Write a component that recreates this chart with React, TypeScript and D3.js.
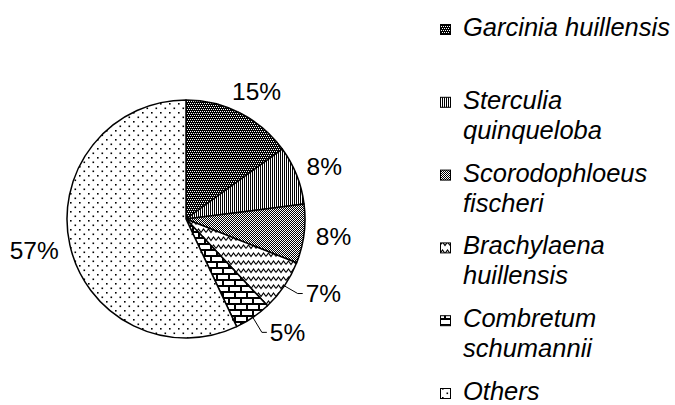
import React from 'react';
import * as d3 from 'd3';

const species = [
  'Garcinia huillensis',
  'Sterculia quinqueloba',
  'Scorodophloeus fischeri',
  'Brachylaena huillensis',
  'Combretum schumannii',
  'Others'
];
const legendLines = [
  ['Garcinia huillensis'],
  ['Sterculia', 'quinqueloba'],
  ['Scorodophloeus', 'fischeri'],
  ['Brachylaena', 'huillensis'],
  ['Combretum', 'schumannii'],
  ['Others']
];
const shares = [15, 8, 8, 7, 5, 57];
const withLeader = [false, false, false, true, true, false];
const patternIds = ['pGar', 'pSte', 'pSco', 'pBra', 'pCom', 'pOth'];

const width = 675;
const height = 405;
const cx = 186;
const cy = 219;
const radius = 119;
const font = '"Liberation Sans", Arial, sans-serif';
const labelSize = 24.5;

const Patterns = () => (
  <defs>
    {/* dense dark check */}
    <pattern id="pGar" width={4} height={4} patternUnits="userSpaceOnUse">
      <rect width={4} height={4} fill="#000" />
      <rect x={0} y={0} width={1} height={1} fill="#fff" />
      <rect x={2} y={0} width={1} height={1} fill="#fff" />
      <rect x={1} y={2} width={1} height={1} fill="#fff" />
      <rect x={3} y={2} width={1} height={1} fill="#fff" />
    </pattern>
    {/* vertical stripes */}
    <pattern id="pSte" width={2} height={4} patternUnits="userSpaceOnUse">
      <rect width={2} height={4} fill="#fff" />
      <rect x={0} y={0} width={1} height={4} fill="#000" />
    </pattern>
    {/* fine checker */}
    <pattern id="pSco" width={2} height={2} patternUnits="userSpaceOnUse">
      <rect width={2} height={2} fill="#fff" />
      <rect x={0} y={0} width={1} height={1} fill="#000" />
      <rect x={1} y={1} width={1} height={1} fill="#000" />
    </pattern>
    {/* zigzag waves */}
    <pattern id="pBra" width={10} height={8} patternUnits="userSpaceOnUse">
      <rect width={10} height={8} fill="#fff" />
      <path d="M0,5.5 L2.5,2 L5,5.5 L7.5,2 L10,5.5" fill="none" stroke="#000" strokeWidth={1.2} />
    </pattern>
    {/* brick */}
    <pattern id="pCom" width={12} height={12} patternUnits="userSpaceOnUse">
      <rect width={12} height={12} fill="#fff" />
      <path d="M0,1 H12 M0,7 H12 M1,1 V7 M7,7 V13" fill="none" stroke="#000" strokeWidth={2} />
    </pattern>
    {/* sparse dots */}
    <pattern id="pOth" width={9} height={9} patternUnits="userSpaceOnUse">
      <rect width={9} height={9} fill="#fff" />
      <rect x={1} y={1} width={1.6} height={1.6} fill="#000" />
      <rect x={5.5} y={5.5} width={1.6} height={1.6} fill="#000" />
    </pattern>
  </defs>
);

const App: React.FC = () => {
  const pie = d3.pie<number>().sort(null).value(d => d);
  const arcs = pie(shares);
  const arc = d3.arc<d3.PieArcDatum<number>>().innerRadius(0).outerRadius(radius);

  const legendY = d3.scaleLinear().domain([0, species.length - 1]).range([36, 400]);

  return (
    <svg width={width} height={height} style={{ position: 'absolute', left: 0, top: 0 }}>
      <Patterns />
      <rect width={width} height={height} fill="#fff" />
      <g transform={`translate(${cx},${cy})`}>
        {arcs.map((a, i) => (
          <path key={species[i]} d={arc(a) || ''} fill={`url(#${patternIds[i]})`}
            stroke="#000" strokeWidth={1.5} strokeLinejoin="round" />
        ))}
        {arcs.map((a, i) => {
          const mid = (a.startAngle + a.endAngle) / 2;
          const s = Math.sin(mid);
          const c = -Math.cos(mid);
          const txt = `${shares[i]}%`;
          if (withLeader[i]) {
            // label dragged out slightly, joined back to the arc
            const la = mid - 0.04;
            const lx = (radius + 22) * Math.sin(la);
            const ly = -(radius + 22) * Math.cos(la);
            const ex = radius * s;
            const ey = radius * c;
            const elbowX = Math.max(ex + 4, lx - 8);
            const pts: [number, number][] = [[ex, ey], [elbowX, ly], [lx - 3, ly]];
            return (
              <g key={'l' + i}>
                <path d={d3.line()(pts) || ''} fill="none" stroke="#000" strokeWidth={1} />
                <text x={lx} y={ly} dy="0.35em" fontFamily={font} fontSize={labelSize}>{txt}</text>
              </g>
            );
          }
          const w = ((txt.length - 1) * 0.556 + 0.889) * labelSize;
          const R = radius + 12;
          const x = R * s + s * w / 2;
          const y = R * c + c * 12;
          return (
            <text key={'l' + i} x={x} y={y} dy="0.35em" textAnchor="middle"
              fontFamily={font} fontSize={labelSize}>{txt}</text>
          );
        })}
      </g>
      <g>
        {legendLines.map((lines, i) => {
          const by = legendY(i);
          return (
            <g key={species[i]}>
              <rect x={440.5} y={by - 11.5} width={10} height={10} fill={`url(#${patternIds[i]})`}
                stroke="#000" strokeWidth={1} />
              {lines.map((ln, j) => (
                <text key={ln} x={463} y={by + j * 30} fontFamily={font} fontSize={25.5}
                  fontStyle="italic">{ln}</text>
              ))}
            </g>
          );
        })}
      </g>
    </svg>
  );
};

export default App;
